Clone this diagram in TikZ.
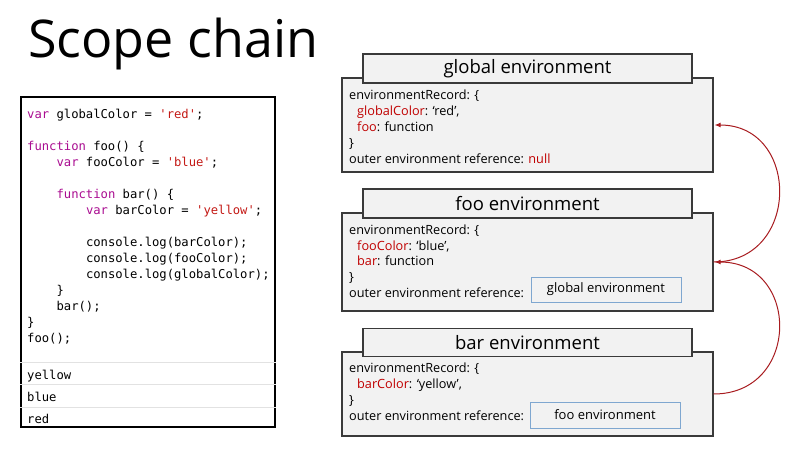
\documentclass[tikz,border=0pt]{standalone}
\usepackage{fontspec}
\setmainfont{Open Sans}
\setmonofont{DejaVu Sans Mono}
\usetikzlibrary{positioning,arrows.meta}

\definecolor{kwpurple}{HTML}{AA0D91}
\definecolor{strred}{HTML}{C41A16}
\definecolor{keyred}{HTML}{C00000}
\definecolor{arrowred}{HTML}{A81C20}
\definecolor{envgray}{HTML}{F2F2F2}
\definecolor{envline}{HTML}{3A3A3A}
\definecolor{refblue}{HTML}{7FA7D0}
\definecolor{sepgray}{HTML}{E2E2E2}

\newcommand{\jskw}[1]{\textcolor{kwpurple}{#1}}
\newcommand{\jsstr}[1]{\textcolor{strred}{#1}}
\newcommand{\envkey}[1]{\textcolor{keyred}{#1}}
\newcommand{\ind}{\hspace*{29.4pt}}
\newcommand{\rind}{\hspace*{8pt}}

\begin{document}
\begin{tikzpicture}[x=1pt,y=-1pt,
  envbox/.style={draw=envline, line width=1.2pt, fill=envgray, minimum width=371pt, inner sep=0pt},
  envtab/.style={draw=envline, line width=1.2pt, fill=envgray, minimum width=329pt, minimum height=29pt, inner sep=0pt, font=\fontsize{18.5}{20}\selectfont},
  envtext/.style={anchor=north west, align=left, inner sep=0pt, font=\fontsize{12.7}{15.8}\selectfont},
  refbox/.style={draw=refblue, line width=1pt, fill=envgray, minimum width=150pt, minimum height=25pt, inner sep=0pt, font=\fontsize{13}{15}\selectfont},
  codetext/.style={anchor=north west, align=left, inner sep=0pt, font=\ttfamily\fontsize{12.2}{16}\selectfont},
  sepline/.style={draw=sepgray, line width=0.8pt},
  chain/.style={-{Latex[length=6pt,width=5pt]}, draw=arrowred, line width=1pt, shorten >=1pt}]
  \useasboundingbox (0,0) rectangle (800,471);

  % title
  \node[anchor=base west, inner sep=0pt, font=\fontsize{52}{60}\selectfont] (title) at (28,57) {Scope chain};

  % source code and its output
  \node[draw=black, line width=1.3pt, fill=white, minimum width=254pt, minimum height=330pt, inner sep=0pt] (codebox) at (148,262) {};
  \node[codetext] (code) at (27,109) {%
\jskw{var} globalColor = \jsstr{'red'};\\[16pt]
\jskw{function} foo() \{\\
\ind\jskw{var} fooColor = \jsstr{'blue'};\\[16pt]
\ind\jskw{function} bar() \{\\
\ind\ind\jskw{var} barColor = \jsstr{'yellow'};\\[16pt]
\ind\ind console.log(barColor);\\
\ind\ind console.log(fooColor);\\
\ind\ind console.log(globalColor);\\
\ind\}\\
\ind bar();\\
\}\\
foo();};
  \foreach \y in {362,384,407}
    \draw[sepline] (codebox.west |- 0,\y) -- (codebox.east |- 0,\y);
  \node[codetext, font=\ttfamily\fontsize{12.2}{22}\selectfont] (output) at (27,370) {yellow\\blue\\red};

  % global environment
  \node[envbox, minimum height=94pt] (globalenv) at (527.5,125) {};
  \node[envtab] (globaltab) at (527.5,68.5) {global environment};
  \node[envtext] (globalrec) at (349,90) {environmentRecord: \{\\
\rind\envkey{globalColor}: ‘red’,\\
\rind\envkey{foo}: function\\
\}\\
outer environment reference: \envkey{null}};

  % foo environment
  \node[envbox, minimum height=98pt] (fooenv) at (527.5,262) {};
  \node[envtab] (footab) at (527.5,203.5) {foo environment};
  \node[envtext] (foorec) at (349,224.5) {environmentRecord: \{\\
\rind\envkey{fooColor}: ‘blue’,\\
\rind\envkey{bar}: function\\
\}\\
outer environment reference:};
  \node[refbox] (fooouter) at (606,289.5) {global environment};

  % bar environment
  \node[envbox, minimum height=84pt] (barenv) at (527.5,394) {};
  \node[envtab, minimum height=28pt] (bartab) at (527.5,342.5) {bar environment};
  \node[envtext] (barrec) at (349,363) {environmentRecord: \{\\
\rind\envkey{barColor}: ‘yellow’,\\
\}\\
outer environment reference:};
  \node[refbox, minimum height=26pt] (barouter) at (605,415) {foo environment};

  % scope chain
  \draw[chain] (barenv.east) to[out=0, in=0, out distance=87pt, in distance=87pt] (fooenv.east);
  \draw[chain] (fooenv.east) to[out=0, in=0, out distance=87pt, in distance=87pt] (globalenv.east);
\end{tikzpicture}
\end{document}
